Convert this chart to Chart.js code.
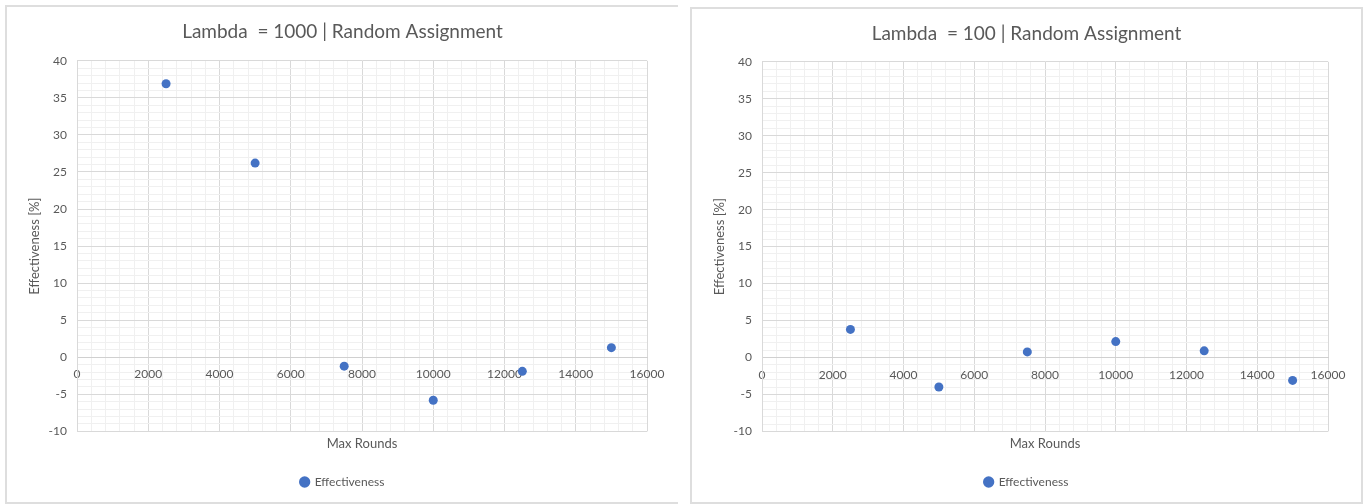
<!DOCTYPE html>
<html>
<head>
<meta charset="utf-8">
<script src="https://cdn.jsdelivr.net/npm/chart.js@4/dist/chart.umd.min.js"></script>
<style>
  html, body { margin: 0; padding: 0; background: #fff; width: 1366px; height: 504px; overflow: hidden; }
  canvas { position: absolute; }
  .ln { position: absolute; background: #dedede; }
</style>
</head>
<body>
<!-- panel frames -->
<div class="ln" style="left:5px;top:5px;width:673px;height:2px;"></div>
<div class="ln" style="left:5px;top:5px;width:2px;height:499px;"></div>
<div class="ln" style="left:5px;top:502px;width:673px;height:2px;"></div>
<div class="ln" style="left:690px;top:7px;width:673px;height:2px;"></div>
<div class="ln" style="left:690px;top:7px;width:2px;height:497px;"></div>
<div class="ln" style="left:1361px;top:7px;width:2px;height:497px;"></div>
<div class="ln" style="left:690px;top:502px;width:673px;height:2px;"></div>

<canvas id="c1" width="669" height="495" style="left:8px;top:7px;"></canvas>
<canvas id="c2" width="667" height="493" style="left:693px;top:9px;"></canvas>

<script>
// ---- data ----
const maxRounds = [2500, 5000, 7500, 10000, 12500, 15000];
const effLambda1000 = [36.9, 26.2, -1.2, -5.8, -1.9, 1.3];
const effLambda100 = [3.8, -4.0, 0.75, 2.15, 0.9, -3.1];
const titles = ['Lambda  = 1000 | Random Assignment', 'Lambda  = 100 | Random Assignment'];
const seriesName = 'Effectiveness';
const xAxisTitle = 'Max Rounds';
const yAxisTitle = 'Effectiveness [%]';
const xRange = [0, 16000], xMajor = 2000, xMinor = 400;
const yRange = [-10, 40], yMajor = 5, yMinor = 1;

const FONT = 'Lato, "Open Sans", sans-serif';
const TXT = '#595959';
const BLUE = '#4472C4';
const MAJOR = '#d9d9d9';
const MINOR = '#f0f0f0';

function makeChart(id, title, values, rightPad, titleBottom) {
  const pts = maxRounds.map((x, i) => ({x: x, y: values[i]}));
  return new Chart(document.getElementById(id), {
    type: 'scatter',
    data: { datasets: [{
      label: seriesName, data: pts,
      backgroundColor: BLUE, borderColor: BLUE,
      pointRadius: 4.5, pointHoverRadius: 4.5, pointBorderWidth: 0
    }]},
    options: {
      responsive: false, animation: false, devicePixelRatio: 1,
      layout: { padding: { left: 0, right: 0, top: 0, bottom: 4 } },
      plugins: {
        tooltip: { enabled: false },
        title: { display: true, text: title, color: TXT,
          font: { family: FONT, size: 19, weight: 'normal' },
          padding: { top: 13, bottom: titleBottom } },
        subtitle: { display: true, text: xAxisTitle, position: 'bottom', weight: 500, fullSize: false,
          color: TXT, font: { family: FONT, size: 13, weight: 'normal' },
          padding: { top: 5, bottom: 14 } },
        legend: { position: 'bottom', weight: 1000,
          labels: { usePointStyle: true, pointStyle: 'circle', boxWidth: 8, boxHeight: 8,
            color: TXT, font: { family: FONT, size: 12 }, padding: 10 } }
      },
      scales: {
        x: {
          type: 'linear', min: xRange[0], max: xRange[1],
          position: { y: 0 },
          grid: { drawTicks: false,
            color: c => (c.tick && c.tick.value % xMajor === 0) ? MAJOR : MINOR },
          border: { color: '#d0d0d0', width: 1 },
          ticks: { stepSize: xMinor, autoSkip: false, maxRotation: 0, padding: 10,
            color: TXT, font: { family: FONT, size: 12 },
            callback: v => (v % xMajor === 0) ? String(v) : '' }
        },
        y: {
          type: 'linear', min: yRange[0], max: yRange[1],
          afterFit: s => { s.width = 69; },
          grid: { drawTicks: false,
            color: c => (c.tick && c.tick.value % yMajor === 0) ? MAJOR : MINOR },
          border: { color: MAJOR },
          title: { display: true, text: yAxisTitle, color: TXT,
            font: { family: FONT, size: 13, weight: 'normal' }, padding: { top: 19, bottom: 0 } },
          ticks: { stepSize: yMinor, autoSkip: false, padding: 10,
            color: TXT, font: { family: FONT, size: 12 },
            callback: v => (v % yMajor === 0) ? String(v) : '' }
        },
        yPad: {
          type: 'linear', position: 'right', display: true,
          afterFit: s => { s.width = rightPad; },
          grid: { display: false, drawOnChartArea: false, drawTicks: false },
          border: { display: false },
          ticks: { display: false }
        }
      }
    }
  });
}

makeChart('c1', titles[0], effLambda1000, 30, 18);
makeChart('c2', titles[1], effLambda100, 32, 17);
</script>
</body>
</html>
